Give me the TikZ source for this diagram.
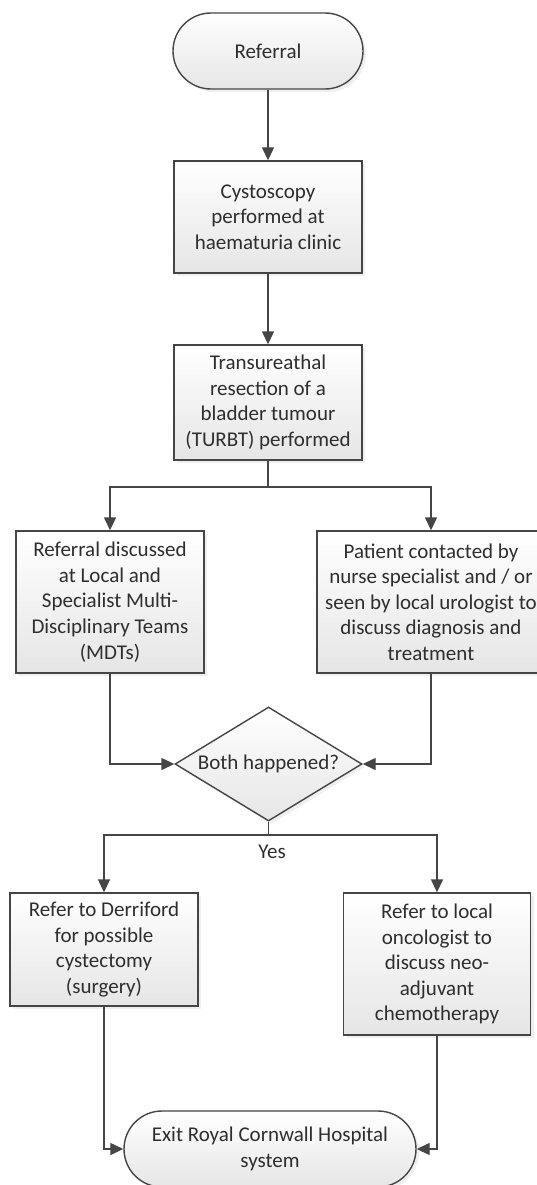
\documentclass[tikz,border=0pt]{standalone}
\usepackage{fontspec}
\setmainfont{Carlito}
\usetikzlibrary{arrows.meta,shapes.geometric,shadows}
\definecolor{ln}{HTML}{454545}
\definecolor{tx}{HTML}{2E2E2E}
\tikzset{
  base/.style={draw=ln, line width=1.4pt, top color=white, bottom color=black!10,
    drop shadow={shadow xshift=3pt, shadow yshift=-3pt, fill=black!12, draw=none},
    font=\fontsize{21}{25.6}\selectfont, text=tx, align=center, inner sep=0pt},
  procbox/.style={base, rectangle, minimum width=188pt},
  termbox/.style={base, rectangle, rounded corners=38pt, minimum height=76pt},
  decision/.style={base, diamond, shape aspect=1.64, minimum width=187pt, minimum height=114pt},
  lbl/.style={font=\fontsize{21}{25.6}\selectfont, text=tx, inner sep=0pt},
  plainline/.style={draw=ln, line width=1.4pt},
  conn/.style={plainline, -{Triangle[length=13pt,width=12pt]}},
}
\begin{document}
\begin{tikzpicture}[x=1pt,y=1pt]
\useasboundingbox (0,0) rectangle (536,-1185);
\fill[white] (0,0) rectangle (536,-1185);

\node[termbox, minimum width=190pt] (ref) at (268,-51) {Referral};
\node[procbox, minimum height=112pt] (cys) at (268,-217) {Cystoscopy\\performed at\\haematuria clinic};
\node[procbox, minimum height=115pt] (tur) at (268,-402.5) {Transureathal\\resection of a\\bladder tumour\\(TURBT) performed};
\node[procbox, minimum height=142pt] (mdt) at (110,-602) {Referral discussed\\at Local and\\Specialist Multi-\\Disciplinary Teams\\(MDTs)};
\node[procbox, minimum width=228pt, minimum height=142pt] (pat) at (431,-602) {Patient contacted by\\nurse specialist and / or\\seen by local urologist to\\discuss diagnosis and\\treatment};
\node[decision] (dia) at (268.5,-764) {Both happened?};
\node[procbox, minimum height=113pt] (der) at (104,-949.5) {Refer to Derriford\\for possible\\cystectomy\\(surgery)};
\node[procbox, minimum width=187pt, minimum height=142pt] (onc) at (437,-964) {Refer to local\\oncologist to\\discuss neo-\\adjuvant\\chemotherapy};
\node[termbox, minimum width=292pt] (exit) at (270,-1149) {Exit Royal Cornwall Hospital\\system};

\coordinate (j1) at (268,-487);
\coordinate (j2) at (268.5,-835);
\node[lbl] (yes) at (272,-852) {Yes};

\draw[conn] (ref) -- (cys);
\draw[conn] (cys) -- (tur);
\draw[plainline] (tur.south) -- (j1);
\draw[conn] (j1) -| (mdt.north);
\draw[conn] (j1) -| (pat.north);
\draw[conn] (mdt.south) |- (dia.west);
\draw[conn] (pat.south) |- (dia.east);
\draw[plainline] (dia.south) -- (j2);
\draw[conn] (j2) -| (der.north);
\draw[conn] (j2) -| (onc.north);
\draw[conn] (der.south) |- (exit.west);
\draw[conn] (onc.south) |- (exit.east);
\end{tikzpicture}
\end{document}
